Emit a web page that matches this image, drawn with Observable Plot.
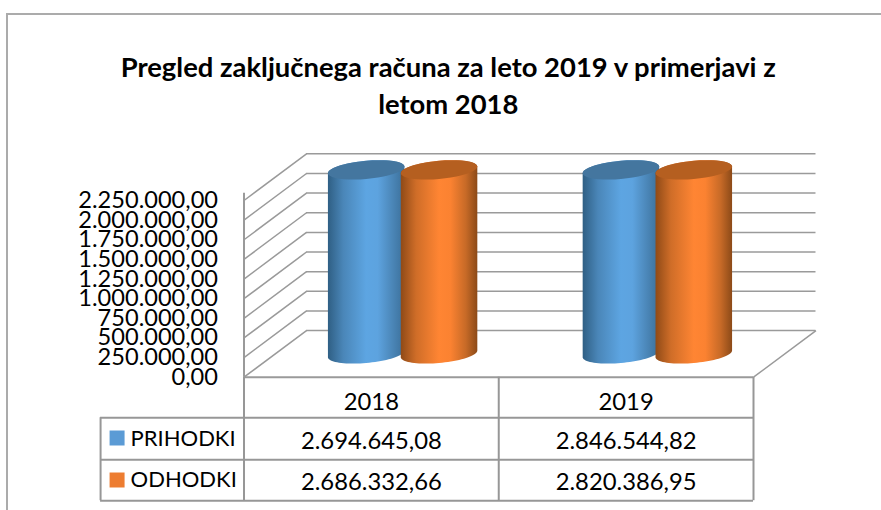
<!DOCTYPE html>
<html>
<head>
<meta charset="utf-8">
<script src="https://cdn.jsdelivr.net/npm/d3@7"></script>
<script src="https://cdn.jsdelivr.net/npm/@observablehq/plot@0.6"></script>
<style>
html,body{margin:0;padding:0;background:#fff;overflow:hidden}
#chart{position:absolute;left:0;top:0;width:881px;height:510px}
#border{position:absolute;left:6px;top:13px;right:0;bottom:0;border-top:2px solid #ababab;border-left:2px solid #ababab}
#chart svg{position:absolute;left:0;top:0;background:transparent}
</style>
</head>
<body>
<div id="border"></div>
<div id="chart"></div>
<script>
const titleLines = ["Pregled zaključnega računa za leto 2019 v primerjavi z", "letom 2018"];
const years = ["2018", "2019"];
const seriesNames = ["PRIHODKI", "ODHODKI"];
const prihodki = [2694645.08, 2846544.82];
const odhodki = [2686332.66, 2820386.95];
const yTicks = [0, 250000, 500000, 750000, 1000000, 1250000, 1500000, 1750000, 2000000, 2250000];
const swatchColors = ["#5b9bd5", "#ed7d31"];

// Value axis ends just above the last tick; taller columns are cut off there, as in the source.
const yMax = 2343000;
const depthX = 0.2453, depthY = 594000;            // oblique projection of one unit of depth
const rowBottoms = [40.5, 82.5, 123.5];            // table rows below the floor edge, px
const tableLeft = -0.563;
const gridColor = "#9a9a9a", tableColor = "#979797";
const fmt = d3.formatLocale({decimal: ",", thousands: ".", grouping: [3]}).format(",.2f");

const project = (xu, value, depth) => ({x: xu + depth * depthX, y: value + depth * depthY});

function ellipsePoints(cx, value, from, to) {
  const a = 0.1413, b = 0.208, pts = [];
  const phi = Math.atan2(b * depthX, a);
  for (let i = 0; i <= 40; i++) {
    const t = phi + from + (to - from) * i / 40;
    pts.push({x: cx + a * Math.cos(t) + 0.5 * depthX + b * depthX * Math.sin(t),
              y: value + 0.5 * depthY + b * depthY * Math.sin(t)});
  }
  return pts;
}

function cylinder(cx, value, grad, capColor) {
  const top = Math.min(value, yMax);
  const body = [...ellipsePoints(cx, 0, Math.PI, 2 * Math.PI), ...ellipsePoints(cx, top, 0, Math.PI)];
  const cap = ellipsePoints(cx, top, 0, 2 * Math.PI);
  return [
    Plot.line(body, {x: "x", y: "y", fill: `url(#${grad})`, stroke: "none", curve: "linear"}),
    Plot.line(cap, {x: "x", y: "y", fill: capColor, stroke: "none", curve: "linear"})
  ];
}

function gradients() {
  const defs = d3.create("svg:defs");
  const add = (id, stops) => {
    const g = defs.append("linearGradient").attr("id", id).attr("x1", 0).attr("x2", 1).attr("y1", 0).attr("y2", 0);
    stops.forEach(([o, c]) => g.append("stop").attr("offset", o).attr("stop-color", c));
  };
  add("gBlue", [[0, "#2f5f84"], [0.2, "#4a86b8"], [0.5, "#5da5e2"], [0.65, "#5da3df"], [0.85, "#4a85b6"], [1, "#3b6f99"]]);
  add("gOrange", [[0, "#8f4a17"], [0.2, "#cf6d28"], [0.5, "#ff8533"], [0.65, "#fb8231"], [0.85, "#c76a27"], [1, "#8c4a18"]]);
  return defs.node();
}

const backX1 = project(0, 0, 1).x, backX2 = project(2, 0, 1).x;
const numberFont = {fontSize: 23.8, fill: "#000", lineAnchor: "middle"};
const labelFont = {fontSize: 22, fill: "#000", lineAnchor: "middle"};
const titleFont = {fontSize: 27.4, fontWeight: "bold", fill: "#000", lineAnchor: "middle", x: 1, y: yMax, dx: -50.5, text: d => d};

const plot = Plot.plot({
  width: 881,
  height: 510,
  marginLeft: 243.5,
  marginRight: 128,
  marginTop: 192.7,
  marginBottom: 133.3,
  style: {fontFamily: "Lato, Carlito, sans-serif", background: "transparent", color: "#000"},
  x: {type: "linear", domain: [0, 2], axis: null},
  y: {type: "linear", domain: [0, yMax], axis: null},
  marks: [
    gradients,
    // walls and floor
    Plot.link(yTicks, {x1: 0, y1: d => d, x2: backX1, y2: d => d + depthY, stroke: gridColor, strokeWidth: 1.5}),
    Plot.ruleY(yTicks, {y: d => d + depthY, x1: backX1, x2: backX2, stroke: gridColor, strokeWidth: 1.5}),
    Plot.link([0], {x1: 2, y1: 0, x2: backX2, y2: depthY, stroke: gridColor, strokeWidth: 1.5}),
    Plot.ruleX([0], {y1: 0, y2: yMax, stroke: gridColor, strokeWidth: 2}),
    Plot.ruleY([0], {x1: 0, x2: 2, stroke: gridColor, strokeWidth: 2}),
    // columns
    ...years.flatMap((_, i) => [
      ...cylinder(i + 0.357, prihodki[i], "gBlue", "#44769f"),
      ...cylinder(i + 0.643, odhodki[i], "gOrange", "#b55f20")
    ]),
    // value axis
    Plot.axisY({ticks: yTicks, tickFormat: fmt, tickSize: 0, tickPadding: 26, fontSize: 23.6, anchor: "left", label: null}),
    // title
    Plot.text([titleLines[0]], {...titleFont, dy: -125}),
    Plot.text([titleLines[1]], {...titleFont, dy: -88}),
    // data table grid
    ...rowBottoms.map(px => Plot.ruleY([0], {x1: tableLeft, x2: 2, dy: px, stroke: tableColor, strokeWidth: 2})),
    ...[0, 1, 2].map(v => Plot.ruleX([v], {y1: 0, y2: -rowBottoms[2] / 184 * yMax, stroke: tableColor, strokeWidth: 2})),
    Plot.ruleX([tableLeft], {y1: -rowBottoms[0] / 184 * yMax, y2: -rowBottoms[2] / 184 * yMax, stroke: tableColor, strokeWidth: 2}),
    // table text
    Plot.text(years, {x: (_, i) => i + 0.5, y: 0, dy: 25, text: d => d, ...numberFont}),
    Plot.text(prihodki, {x: (_, i) => i + 0.5, y: 0, dy: 64, text: d => fmt(d), ...numberFont}),
    Plot.text(odhodki, {x: (_, i) => i + 0.5, y: 0, dy: 105, text: d => fmt(d), ...numberFont}),
    Plot.text(seriesNames, {x: tableLeft, y: 0, dx: 30, dy: 61.5, text: d => d, textAnchor: "start", ...labelFont,
      filter: (_, i) => i === 0}),
    Plot.text(seriesNames, {x: tableLeft, y: 0, dx: 30, dy: 103, text: d => d, textAnchor: "start", ...labelFont,
      filter: (_, i) => i === 1}),
    Plot.dot([swatchColors[0]], {x: tableLeft, y: 0, dx: 16.5, dy: 60.8, symbol: "square", r: 8.46, fill: d => d}),
    Plot.dot([swatchColors[1]], {x: tableLeft, y: 0, dx: 16.5, dy: 102.8, symbol: "square", r: 8.46, fill: d => d})
  ]
});
document.getElementById("chart").append(plot);
</script>
</body>
</html>
